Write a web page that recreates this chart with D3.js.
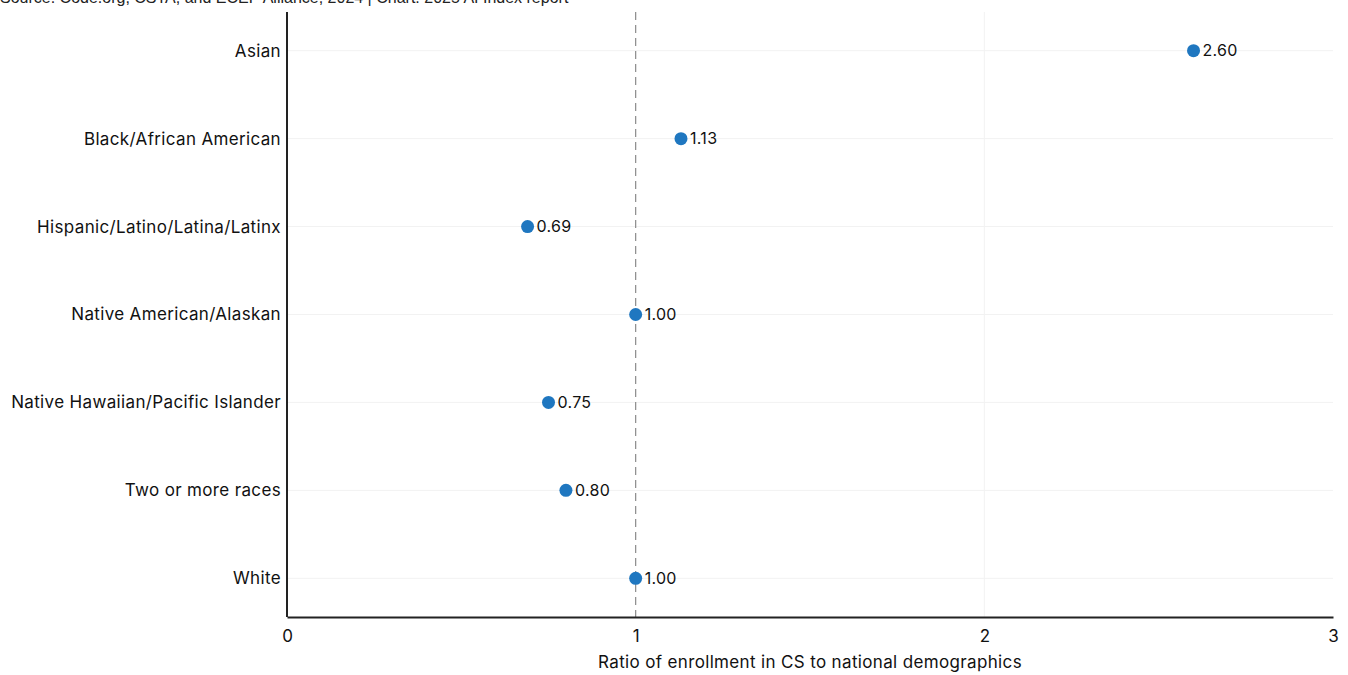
<!DOCTYPE html>
<html><head><meta charset="utf-8">
<script src="https://cdn.jsdelivr.net/npm/d3@7"></script>
<style>body{margin:0;background:#fff}svg{display:block}</style>
</head><body><svg id="c" width="1348" height="675"></svg>
<script>
const categories = ["Asian","Black/African American","Hispanic/Latino/Latina/Latinx","Native American/Alaskan","Native Hawaiian/Pacific Islander","Two or more races","White"];
const values = [2.60,1.13,0.69,1.00,0.75,0.80,1.00];
const xTicks = [0,1,2,3];
const refValue = 1;
const sourceText = "Source: Code.org, CSTA, and ECEP Alliance, 2024 | Chart: 2025 AI Index report";
const xTitle = "Ratio of enrollment in CS to national demographics";

const svg = d3.select("#c");
const font = "Inter, 'Noto Sans', sans-serif";
const m = {left:287, right:15, top:12, bottom:58};
const W = 1348, H = 675;
const x = d3.scaleLinear().domain([0,3]).range([m.left, W - m.right]);
const y = d3.scalePoint().domain(categories).range([m.top, H - m.bottom]).padding(0.44);

// gridlines
svg.append("g").selectAll("line").data(categories).join("line")
  .attr("x1", m.left).attr("x2", W - m.right)
  .attr("y1", d=>y(d)).attr("y2", d=>y(d))
  .attr("stroke","#f2f2f2").attr("stroke-width",1);
svg.append("g").selectAll("line").data(xTicks.filter(t=>t>0 && t<3 && t!==refValue)).join("line")
  .attr("x1", d=>x(d)).attr("x2", d=>x(d))
  .attr("y1", m.top).attr("y2", H - m.bottom)
  .attr("stroke","#f2f2f2").attr("stroke-width",1);

// reference line
svg.append("line").attr("x1", x(refValue)).attr("x2", x(refValue))
  .attr("y1", m.top).attr("y2", H - m.bottom)
  .attr("stroke","#8a8a8a").attr("stroke-width",1.2).attr("stroke-dasharray","8,5");

// x axis
const xa = svg.append("g").attr("transform",`translate(0,${H - m.bottom})`)
  .call(d3.axisBottom(x).tickValues(xTicks).tickFormat(d3.format("d")).tickSize(0).tickPadding(13));
xa.select(".domain").attr("stroke","#222").attr("stroke-width",2);
xa.selectAll("text").attr("font-family",font).attr("font-size",17).attr("fill","#111");

// y axis
const ya = svg.append("g").attr("transform",`translate(${m.left},0)`)
  .call(d3.axisLeft(y).tickSize(0).tickPadding(6));
ya.select(".domain").attr("stroke","#222").attr("stroke-width",2).attr("d",`M0,${m.top}V${H - m.bottom}`);
ya.selectAll("text").attr("font-family",font).attr("font-size",17).attr("letter-spacing","0.35px").attr("fill","#111");

// points
const data = categories.map((c,i)=>({c, v: values[i]}));
svg.append("g").selectAll("circle").data(data).join("circle")
  .attr("cx", d=>x(d.v)).attr("cy", d=>y(d.c)).attr("r",6.5).attr("fill","#1f77c0");
svg.append("g").selectAll("text").data(data).join("text")
  .attr("x", d=>x(d.v)+9).attr("y", d=>y(d.c)).attr("dy","0.35em")
  .attr("font-family",font).attr("font-size",16).attr("letter-spacing","0.3px").attr("fill","#111")
  .text(d=>d3.format(".2f")(d.v));

// titles
svg.append("text").attr("x", (x(0)+x(3))/2).attr("y", 668).attr("text-anchor","middle")
  .attr("font-family",font).attr("font-size",17).attr("letter-spacing","0.35px").attr("fill","#111").text(xTitle);
svg.append("text").attr("x",0).attr("y",3)
  .attr("font-family","'Liberation Sans', Arial, sans-serif").attr("font-size",16).attr("fill","#222").text(sourceText);
</script></body></html>
